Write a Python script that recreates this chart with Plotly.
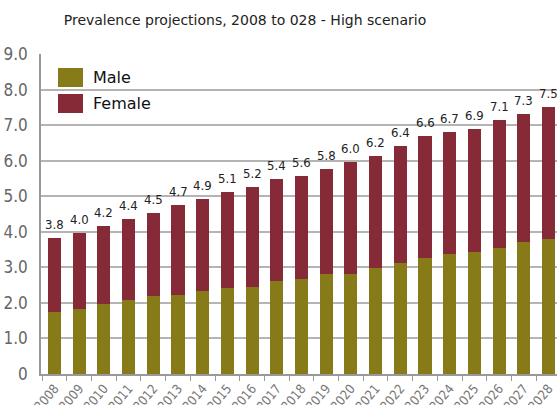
import plotly.graph_objects as go

years = [str(y) for y in range(2008, 2029)]
male = [1.74, 1.83, 1.97, 2.08, 2.19, 2.22, 2.33, 2.42, 2.44, 2.61, 2.67,
        2.81, 2.81, 2.98, 3.13, 3.26, 3.37, 3.43, 3.54, 3.72, 3.79]
female = [2.08, 2.14, 2.19, 2.28, 2.34, 2.53, 2.59, 2.71, 2.82, 2.87, 2.90,
          2.96, 3.15, 3.15, 3.27, 3.43, 3.44, 3.45, 3.59, 3.58, 3.71]
total_labels = ["3.8", "4.0", "4.2", "4.4", "4.5", "4.7", "4.9", "5.1", "5.2", "5.4", "5.6",
                "5.8", "6.0", "6.2", "6.4", "6.6", "6.7", "6.9", "7.1", "7.3", "7.5"]
y_ticks = [0, 1, 2, 3, 4, 5, 6, 7, 8, 9]
y_tick_text = ["0", "1.0", "2.0", "3.0", "4.0", "5.0", "6.0", "7.0", "8.0", "9.0"]

OLIVE = "#867A19"
MAROON = "#862A38"
GRID = "#b4b4b4"

totals = [m + f for m, f in zip(male, female)]

fig = go.Figure()
fig.add_trace(go.Bar(x=years, y=male, name="Male", marker_color=OLIVE,
                     marker_line_width=0, width=0.53, showlegend=False))
fig.add_trace(go.Bar(x=years, y=female, name="Female", marker_color=MAROON,
                     marker_line_width=0, width=0.53, showlegend=False))

for i, (t, lab) in enumerate(zip(totals, total_labels)):
    fig.add_annotation(x=i, y=t, text=lab, showarrow=False, yanchor="bottom",
                       yshift=4, font=dict(family="DejaVu Sans Condensed", size=13, color="#222"))

# legend drawn as swatches + labels
legend_items = [("Male", OLIVE, 0), ("Female", MAROON, 1)]
for name, col, i in legend_items:
    y0 = 68 + i * 26
    fig.add_shape(type="rect", xref="paper", yref="paper",
                  x0=(58 - 41) / 516, x1=(83 - 41) / 516,
                  y0=(374 - (y0 + 19)) / 320, y1=(374 - y0) / 320,
                  fillcolor=col, line_width=0)
    fig.add_annotation(xref="paper", yref="paper", x=(91 - 41) / 516,
                       y=(374 - (y0 + 9.5)) / 320, text=name, showarrow=False,
                       xanchor="left", yanchor="middle",
                       font=dict(family="DejaVu Sans", size=16, color="#111"))

fig.update_layout(
    width=557, height=405,
    margin=dict(l=41, r=0, t=54, b=31),
    barmode="stack",
    plot_bgcolor="white", paper_bgcolor="white",
    title=dict(text="Prevalence projections, 2008 to 028 - High scenario",
               x=245 / 557, xanchor="center", y=1 - 20 / 405, yanchor="middle",
               font=dict(family="DejaVu Sans", size=14, color="#222")),
    showlegend=False,
)
fig.update_xaxes(
    type="category", range=[-0.547, 20.344],
    showline=True, linecolor="#999", linewidth=1.5,
    ticks="outside", tickson="boundaries", ticklen=5, tickcolor="#999",
    tickangle=-50, tickfont=dict(family="DejaVu Sans Condensed", size=13, color="#777"),
    showgrid=False, automargin=False,
)
fig.update_yaxes(
    range=[0, 9], tickvals=y_ticks, ticktext=y_tick_text,
    showline=True, linecolor="#999", linewidth=1.5,
    showgrid=True, gridcolor=GRID, gridwidth=1.5,
    zeroline=False, ticks="", ticklabelstandoff=8,
    tickfont=dict(family="DejaVu Sans Condensed", size=17, color="#666"),
    automargin=False,
)

fig.write_html("out.html", config={"displayModeBar": False},
               post_script="document.body.style.margin='0';document.body.style.overflow='hidden';")
